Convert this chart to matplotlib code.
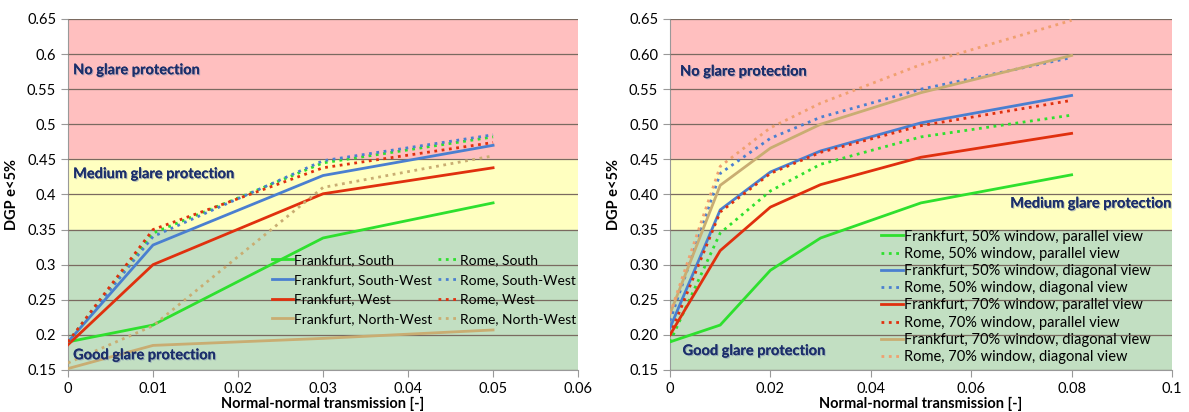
import matplotlib
matplotlib.use('Agg')
import matplotlib.pyplot as plt
import matplotlib.patheffects as pe

plt.rcParams['font.family'] = ['Lato', 'DejaVu Sans']

# left chart: orientations
x_left = [0, 0.01, 0.03, 0.05]
fra_south = [0.190, 0.214, 0.338, 0.388]
fra_southwest = [0.190, 0.328, 0.427, 0.470]
fra_west = [0.186, 0.300, 0.401, 0.438]
fra_northwest = [0.152, 0.185, 0.195, 0.207]
rom_south = [0.190, 0.345, 0.445, 0.482]
rom_southwest = [0.190, 0.340, 0.448, 0.485]
rom_west = [0.190, 0.350, 0.438, 0.474]
rom_northwest = [0.160, 0.213, 0.410, 0.455]

# right chart: window size / view
x_right = [0, 0.01, 0.02, 0.03, 0.05, 0.08]
fra_50_par = [0.190, 0.214, 0.292, 0.338, 0.388, 0.428]
rom_50_par = [0.190, 0.345, 0.405, 0.443, 0.482, 0.513]
fra_50_diag = [0.210, 0.378, 0.432, 0.462, 0.502, 0.541]
rom_50_diag = [0.220, 0.430, 0.480, 0.510, 0.550, 0.595]
fra_70_par = [0.200, 0.320, 0.382, 0.414, 0.453, 0.487]
rom_70_par = [0.200, 0.375, 0.430, 0.460, 0.498, 0.534]
fra_70_diag = [0.230, 0.413, 0.466, 0.500, 0.545, 0.598]
rom_70_diag = [0.230, 0.440, 0.495, 0.530, 0.585, 0.648]

GREEN = '#2ee02e'
BLUE = '#4a7fd0'
RED = '#e0300e'
TAN = '#c9ad72'
ORANGE = '#f0a070'
NAVY = '#1c2f6b'

fig = plt.figure(figsize=(11.89, 4.12), dpi=100)
ax1 = fig.add_axes([0.0572, 0.102, 0.429, 0.852])
ax2 = fig.add_axes([0.5635, 0.102, 0.4222, 0.852])


def style_axes(ax, xmax):
    ax.axhspan(0.45, 0.65, color='#ffbfbf', zorder=0)
    ax.axhspan(0.35, 0.45, color='#ffffc0', zorder=0)
    ax.axhspan(0.15, 0.35, color='#c2dfc2', zorder=0)
    ax.set_xlim(0, xmax)
    ax.set_ylim(0.15, 0.65)
    ax.grid(axis='y', color='#7a6a60', linewidth=0.9, zorder=1)
    ax.set_axisbelow(False)
    for s in ['top', 'right']:
        ax.spines[s].set_visible(False)
    for s in ['left', 'bottom']:
        ax.spines[s].set_color('#999999')
    ax.tick_params(colors='#999999', labelcolor='black', labelsize=10.5, length=5)
    ax.set_ylabel('DGP e<5%', fontsize=10.5, fontweight='bold', labelpad=6)
    ax.set_xlabel('Normal-normal transmission [-]', fontsize=10.5, fontweight='bold', labelpad=1)


def zone_text(ax, x, y, s, ha='left'):
    ax.text(x, y, s, ha=ha, va='center', fontsize=10.5, fontweight='bold', color=NAVY, zorder=5,
            path_effects=[pe.withSimplePatchShadow(offset=(0.8, -0.8), shadow_rgbFace='#8090b0', alpha=0.6),
                          pe.Normal()])


style_axes(ax1, 0.06)
ax1.set_yticks([0.15, 0.2, 0.25, 0.3, 0.35, 0.4, 0.45, 0.5, 0.55, 0.6, 0.65])
ax1.set_yticklabels(['0.15', '0.2', '0.25', '0.3', '0.35', '0.4', '0.45', '0.5', '0.55', '0.6', '0.65'])
ax1.set_xticks([0, 0.01, 0.02, 0.03, 0.04, 0.05, 0.06])
ax1.set_xticklabels(['0', '0.01', '0.02', '0.03', '0.04', '0.05', '0.06'])

ax1.plot(x_left, fra_south, color=GREEN, lw=2, label='Frankfurt, South', zorder=3)
ax1.plot(x_left, fra_southwest, color=BLUE, lw=2, label='Frankfurt, South-West', zorder=3)
ax1.plot(x_left, fra_west, color=RED, lw=2, label='Frankfurt, West', zorder=3)
ax1.plot(x_left, fra_northwest, color=TAN, lw=2, label='Frankfurt, North-West', zorder=3)
ax1.plot(x_left, rom_south, color=GREEN, lw=2, ls=':', label='Rome, South', zorder=3)
ax1.plot(x_left, rom_southwest, color=BLUE, lw=2, ls=':', label='Rome, South-West', zorder=3)
ax1.plot(x_left, rom_west, color=RED, lw=2, ls=':', label='Rome, West', zorder=3)
ax1.plot(x_left, rom_northwest, color=TAN, lw=2, ls=':', label='Rome, North-West', zorder=3)

ax1.legend(ncol=2, loc='upper left', bbox_to_anchor=(0.40, 0.33), frameon=False, fontsize=10,
           handlelength=1.5, handletextpad=0.1, columnspacing=0.4, labelspacing=0.55,
           borderaxespad=0, borderpad=0)

zone_text(ax1, 0.0006, 0.577, 'No glare protection')
zone_text(ax1, 0.0006, 0.429, 'Medium glare protection')
zone_text(ax1, 0.0006, 0.171, 'Good glare protection')

style_axes(ax2, 0.1)
ax2.set_yticks([0.15, 0.2, 0.25, 0.3, 0.35, 0.4, 0.45, 0.5, 0.55, 0.6, 0.65])
ax2.set_yticklabels(['0.15', '0.20', '0.25', '0.30', '0.35', '0.40', '0.45', '0.50', '0.55', '0.60', '0.65'])
ax2.set_xticks([0, 0.02, 0.04, 0.06, 0.08, 0.1])
ax2.set_xticklabels(['0', '0.02', '0.04', '0.06', '0.08', '0.1'])

ax2.plot(x_right, fra_50_par, color=GREEN, lw=2, label='Frankfurt, 50% window, parallel view', zorder=3)
ax2.plot(x_right, rom_50_par, color=GREEN, lw=2, ls=':', label='Rome, 50% window, parallel view', zorder=3)
ax2.plot(x_right, fra_50_diag, color=BLUE, lw=2, label='Frankfurt, 50% window, diagonal view', zorder=3)
ax2.plot(x_right, rom_50_diag, color=BLUE, lw=2, ls=':', label='Rome, 50% window, diagonal view', zorder=3)
ax2.plot(x_right, fra_70_par, color=RED, lw=2, label='Frankfurt, 70% window, parallel view', zorder=3)
ax2.plot(x_right, rom_70_par, color=RED, lw=2, ls=':', label='Rome, 70% window, parallel view', zorder=3)
ax2.plot(x_right, fra_70_diag, color=TAN, lw=2, label='Frankfurt, 70% window, diagonal view', zorder=3)
ax2.plot(x_right, rom_70_diag, color=ORANGE, lw=2, ls=':', label='Rome, 70% window, diagonal view', zorder=3)

ax2.legend(loc='upper left', bbox_to_anchor=(0.42, 0.40), frameon=False, fontsize=10.5,
           handlelength=1.5, handletextpad=0.1, labelspacing=0.22, borderaxespad=0, borderpad=0)

zone_text(ax2, 0.002, 0.575, 'No glare protection')
zone_text(ax2, 0.1, 0.387, 'Medium glare protection', ha='right')
zone_text(ax2, 0.0025, 0.177, 'Good glare protection')

fig.savefig('out.png', dpi=100)
